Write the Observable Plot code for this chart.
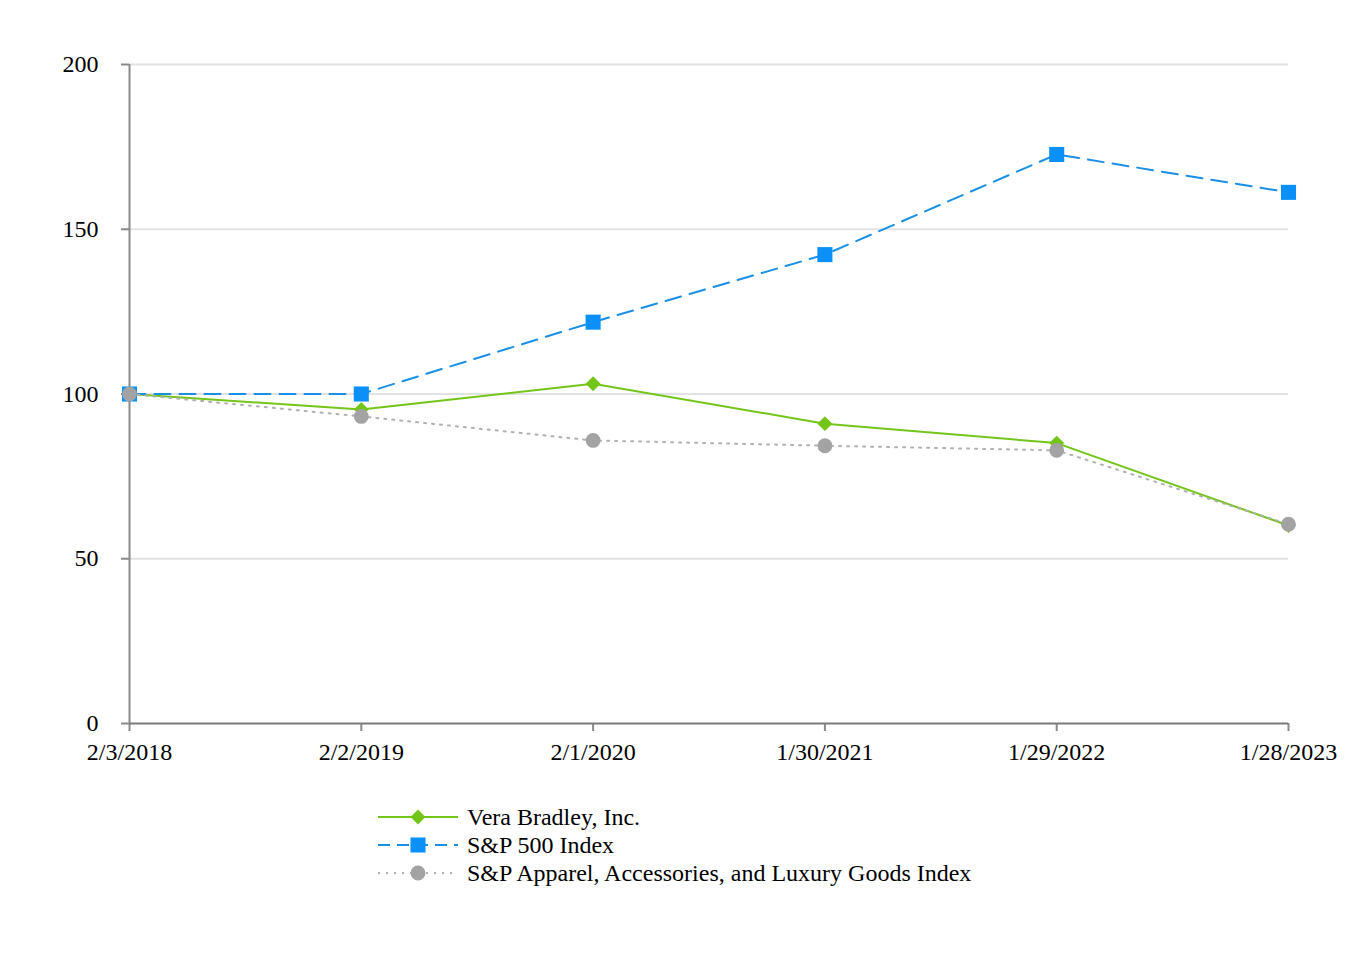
<!DOCTYPE html>
<html>
<head>
<meta charset="utf-8">
<script src="https://cdn.jsdelivr.net/npm/d3@7"></script>
<script src="https://cdn.jsdelivr.net/npm/@observablehq/plot@0.6"></script>
<style>
  html, body { margin: 0; padding: 0; background: #fff; }
  body { width: 1352px; height: 960px; font-family: "Liberation Serif", "Times New Roman", serif; }
  #legend { margin-left: 378px; margin-top: 13px; font-size: 24px; color: #000; }
  .row { display: flex; align-items: center; height: 28px; }
  .row svg { display: block; margin-right: 9px; }
  svg text { font-family: "Liberation Serif", "Times New Roman", serif; }
</style>
</head>
<body>
<div id="chart"></div>
<div id="legend"></div>
<script>
const dates = ["2/3/2018", "2/2/2019", "2/1/2020", "1/30/2021", "1/29/2022", "1/28/2023"];
const seriesNames = ["Vera Bradley, Inc.", "S&P 500 Index", "S&P Apparel, Accessories, and Luxury Goods Index"];
const veraBradley = [100, 95.3, 103.1, 91.0, 85.1, 60.1];
const sp500 = [100, 100.0, 121.8, 142.3, 172.7, 161.2];
const spApparel = [100, 93.2, 85.9, 84.3, 82.9, 60.5];
const yTicks = [0, 50, 100, 150, 200];

const colors = ["#74c51a", "#0a90f7", "#a3a3a3"];
const lineColors = ["#74c51a", "#1b8fe6", "#b0b0b0"];
const dashes = [null, "16,9", "2,6"];
const symbols = ["diamond2", "square", "circle"];
const radii = [6.7, 8.5, 7.4];
const serif = "'Liberation Serif', 'Times New Roman', serif";

const allValues = [veraBradley, sp500, spApparel];
const rows = [];
allValues.forEach((vals, s) => vals.forEach((v, i) => rows.push({series: seriesNames[s], s, date: dates[i], value: v})));

const lineMarks = [];
seriesNames.forEach((name, s) => {
  const d = rows.filter(r => r.s === s);
  lineMarks.push(Plot.line(d, {x: "date", y: "value", stroke: lineColors[s], strokeWidth: 2, strokeDasharray: dashes[s] || undefined}));
  lineMarks.push(Plot.dot(d, {x: "date", y: "value", symbol: () => symbols[s], r: radii[s], fill: colors[s], stroke: "none"}));
});

const chart = Plot.plot({
  width: 1352,
  height: 790,
  marginLeft: 129,
  marginRight: 64,
  marginTop: 64,
  marginBottom: 67,
  style: {fontFamily: serif, fontSize: "24px", color: "#000", background: "#fff"},
  x: {type: "point", domain: dates, padding: 0, round: false},
  y: {domain: [0, 200]},
  marks: [
    Plot.gridY(yTicks.filter(t => t > 0), {stroke: "#e2e2e2", strokeOpacity: 1, strokeWidth: 2}),
    Plot.axisY({ticks: yTicks, tickSize: 8, tickPadding: 23, stroke: "#8a8a8a", strokeWidth: 2, label: null, tickFormat: d => String(d), fill: "#000", fontFamily: serif, fontSize: 24}),
    Plot.axisX({tickSize: 8, tickPadding: 11, stroke: "#8a8a8a", strokeWidth: 2, label: null, fill: "#000", fontFamily: serif, fontSize: 24}),
    Plot.ruleX([dates[0]], {stroke: "#8a8a8a", strokeWidth: 2}),
    Plot.ruleY([0], {stroke: "#7a7a7a", strokeWidth: 2}),
    ...lineMarks
  ]
});
document.getElementById("chart").appendChild(chart);

// Legend
const legend = d3.select("#legend");
seriesNames.forEach((name, s) => {
  const row = legend.append("div").attr("class", "row");
  const sv = row.append("svg").attr("width", 80).attr("height", 28);
  const ln = sv.append("line").attr("x1", 0).attr("x2", 80).attr("y1", 14).attr("y2", 14)
    .attr("stroke", lineColors[s]).attr("stroke-width", 2);
  if (dashes[s]) ln.attr("stroke-dasharray", s === 1 ? "12,7" : "2,6");
  const sym = {diamond2: d3.symbolDiamond2, square: d3.symbolSquare, circle: d3.symbolCircle}[symbols[s]];
  sv.append("path").attr("transform", "translate(40,14)")
    .attr("d", d3.symbol(sym, Math.PI * radii[s] * radii[s])())
    .attr("fill", colors[s]);
  row.append("span").text(name);
});
</script>
</body>
</html>
